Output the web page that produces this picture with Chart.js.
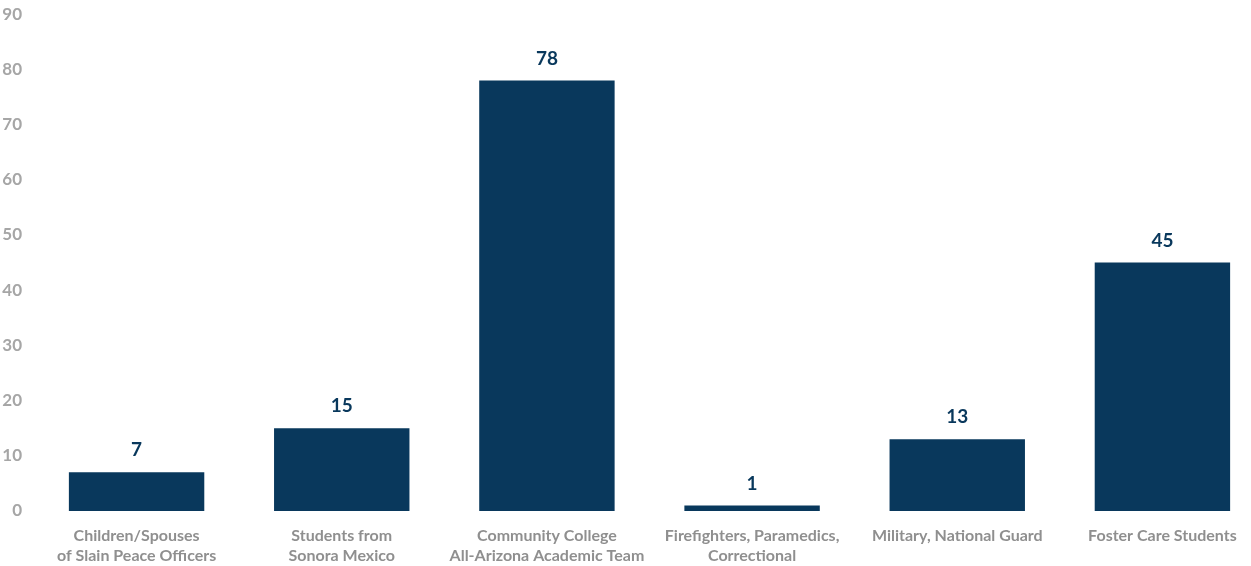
<!DOCTYPE html>
<html>
<head>
<meta charset="utf-8">
<script src="https://cdn.jsdelivr.net/npm/chart.js@4"></script>
<style>
  html, body { margin: 0; padding: 0; background: #fff; overflow: hidden; }
  #wrap { width: 1265px; height: 566px; }
</style>
</head>
<body>
<div id="wrap"><canvas id="chart"></canvas></div>
<script>
const categories = [
  ['Children/Spouses', 'of Slain Peace Officers'],
  ['Students from', 'Sonora Mexico'],
  ['Community College', 'All-Arizona Academic Team'],
  ['Firefighters, Paramedics,', 'Correctional'],
  'Military, National Guard',
  'Foster Care Students',
];
const counts = [7, 15, 78, 1, 13, 45];
const yTicks = [0, 10, 20, 30, 40, 50, 60, 70, 80, 90];

const NAVY = '#09385c';
const FONT = 'Lato, "Liberation Sans", sans-serif';

// value labels above each bar, placed from the bar elements
const barValues = {
  id: 'barValues',
  afterDatasetsDraw(chart) {
    const { ctx } = chart;
    const meta = chart.getDatasetMeta(0);
    ctx.save();
    ctx.font = `bold 19px ${FONT}`;
    ctx.fillStyle = NAVY;
    ctx.textAlign = 'center';
    ctx.textBaseline = 'middle';
    meta.data.forEach((bar, i) => {
      ctx.fillText(String(counts[i]), bar.x, bar.y - 22);
    });
    ctx.restore();
  },
};

new Chart(document.getElementById('chart'), {
  type: 'bar',
  data: {
    labels: categories,
    datasets: [{
      data: counts,
      backgroundColor: NAVY,
      borderWidth: 0,
      barPercentage: 0.66,
      categoryPercentage: 1,
    }],
  },
  options: {
    responsive: true,
    maintainAspectRatio: false,
    animation: false,
    layout: { padding: { top: 10, right: 0, left: 0, bottom: 0 } },
    plugins: { legend: { display: false }, tooltip: { enabled: false } },
    scales: {
      x: {
        grid: { display: false },
        border: { display: false },
        afterFit: s => { s.height = 55; },
        ticks: {
          color: '#8f8f8f',
          font: { family: FONT, size: 16, weight: 'bold', lineHeight: 1.25 },
          maxRotation: 0,
          autoSkip: false,
          padding: 7,
        },
      },
      y: {
        min: 0,
        max: 90,
        afterBuildTicks: s => { s.ticks = yTicks.map(v => ({ value: v })); },
        afterFit: s => { s.width = 34; },
        grid: { display: false },
        border: { display: false },
        ticks: {
          color: '#a6a6a6',
          font: { family: FONT, size: 17, weight: 'bold' },
          padding: 4,
        },
      },
    },
  },
  plugins: [barValues],
});
</script>
</body>
</html>
